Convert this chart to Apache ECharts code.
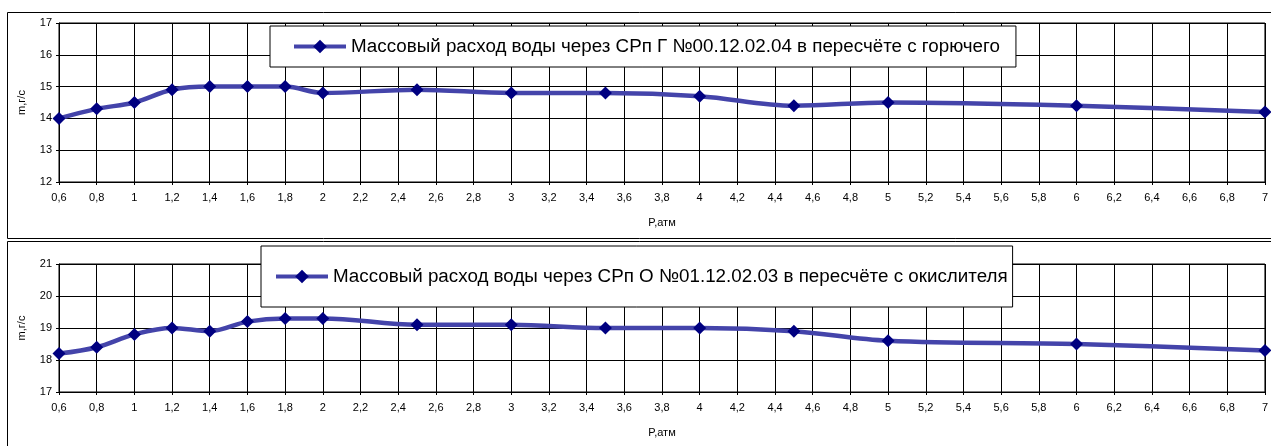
<!DOCTYPE html>
<html>
<head>
<meta charset="utf-8">
<script src="https://cdn.jsdelivr.net/npm/echarts@6/dist/echarts.min.js"></script>
<style>
  html, body { margin: 0; padding: 0; background: #fff; }
  #chart { width: 1271px; height: 446px; }
</style>
</head>
<body>
<div id="chart"></div>
<script>
// pressure points, atm
const pressure = [0.6, 0.8, 1, 1.2, 1.4, 1.6, 1.8, 2, 2.5, 3, 3.5, 4, 4.5, 5, 6, 7];
// water mass flow, g/s
const fuelFlow = [14, 14.3, 14.5, 14.9, 15, 15, 15, 14.8, 14.9, 14.8, 14.8, 14.7, 14.4, 14.5, 14.4, 14.2];
const oxFlow = [18.2, 18.4, 18.8, 19, 18.9, 19.2, 19.3, 19.3, 19.1, 19.1, 19, 19, 18.9, 18.6, 18.5, 18.3];

const fuelName = 'Массовый расход воды через СРп Г №00.12.02.04 в пересчёте с горючего';
const oxName = 'Массовый расход воды через СРп О №01.12.02.03 в пересчёте с окислителя';
const xName = 'P,атм';
const yName = 'm,г/с';

const font = 'Arial, "Liberation Sans", sans-serif';
const lineColor = '#4444aa';
const markColor = '#000080';

function commaLabel(v) {
  return String(Math.round(v * 10) / 10).replace('.', ',');
}

function toPairs(ys) {
  return pressure.map((p, i) => [p, ys[i]]);
}

function xAxis(gridIndex) {
  return {
    gridIndex,
    type: 'value',
    min: 0.6,
    max: 7,
    interval: 0.2,
    name: xName,
    nameLocation: 'middle',
    nameGap: 35,
    nameTextStyle: { color: '#000', fontSize: 11, fontFamily: font },
    axisLine: { lineStyle: { color: '#000', width: 1 } },
    axisTick: { show: true, length: 3, lineStyle: { color: '#000' } },
    axisLabel: { color: '#000', fontSize: 11, fontFamily: font, margin: 10, formatter: commaLabel, showMinLabel: true, showMaxLabel: true },
    splitLine: { show: true, lineStyle: { color: '#000', width: 1 } },
  };
}

function yAxis(gridIndex, min, max) {
  return {
    gridIndex,
    type: 'value',
    min,
    max,
    interval: 1,
    name: yName,
    nameLocation: 'middle',
    nameGap: 32,
    nameTextStyle: { color: '#000', fontSize: 11, fontFamily: font },
    axisLine: { show: true, lineStyle: { color: '#000', width: 1 } },
    axisTick: { show: true, length: 3, lineStyle: { color: '#000' } },
    axisLabel: { color: '#000', fontSize: 11, fontFamily: font, margin: 7 },
    splitLine: { show: true, lineStyle: { color: '#000', width: 1 } },
  };
}

function series(name, idx, ys) {
  return {
    name,
    type: 'line',
    xAxisIndex: idx,
    yAxisIndex: idx,
    data: toPairs(ys),
    smooth: 0.35,
    symbol: 'diamond',
    symbolSize: 13,
    itemStyle: { color: markColor },
    lineStyle: { color: lineColor, width: 4.5 },
    animation: false,
  };
}

function legend(name, left, top, vpad, lpad, rpad) {
  return {
    data: [name],
    left,
    top,
    orient: 'horizontal',
    backgroundColor: '#fff',
    borderColor: '#000',
    borderWidth: 1,
    padding: [vpad, rpad, vpad, lpad],
    itemWidth: 52,
    itemHeight: 17,
    itemGap: 0,
    selectedMode: false,
    lineStyle: { color: lineColor, width: 4 },
    textStyle: { color: '#000', fontSize: 18.8, fontFamily: font },
  };
}

const myChart = echarts.init(document.getElementById('chart'));

const option = {
  backgroundColor: '#fff',
  animation: false,
  graphic: [
    { type: 'rect', silent: true, z: -1, shape: { x: 7.5, y: 12.5, width: 1280, height: 226 }, style: { fill: 'none', stroke: '#000', lineWidth: 1 } },
    { type: 'rect', silent: true, z: -1, shape: { x: 7.5, y: 241.5, width: 1280, height: 220 }, style: { fill: 'none', stroke: '#000', lineWidth: 1 } },
  ],
  grid: [
    { left: 59, top: 23, width: 1209, height: 159, show: true, borderColor: '#000', borderWidth: 1 },
    { left: 59, top: 264, width: 1209, height: 128, show: true, borderColor: '#000', borderWidth: 1 },
  ],
  xAxis: [xAxis(0), xAxis(1)],
  yAxis: [yAxis(0, 12, 17), yAxis(1, 17, 21)],
  legend: [
    legend(fuelName, 270, 26, 11, 22, 16),
    legend(oxName, 261, 246, 21, 13, 5),
  ],
  series: [
    series(fuelName, 0, fuelFlow),
    series(oxName, 1, oxFlow),
  ],
};

myChart.setOption(option);
</script>
</body>
</html>
